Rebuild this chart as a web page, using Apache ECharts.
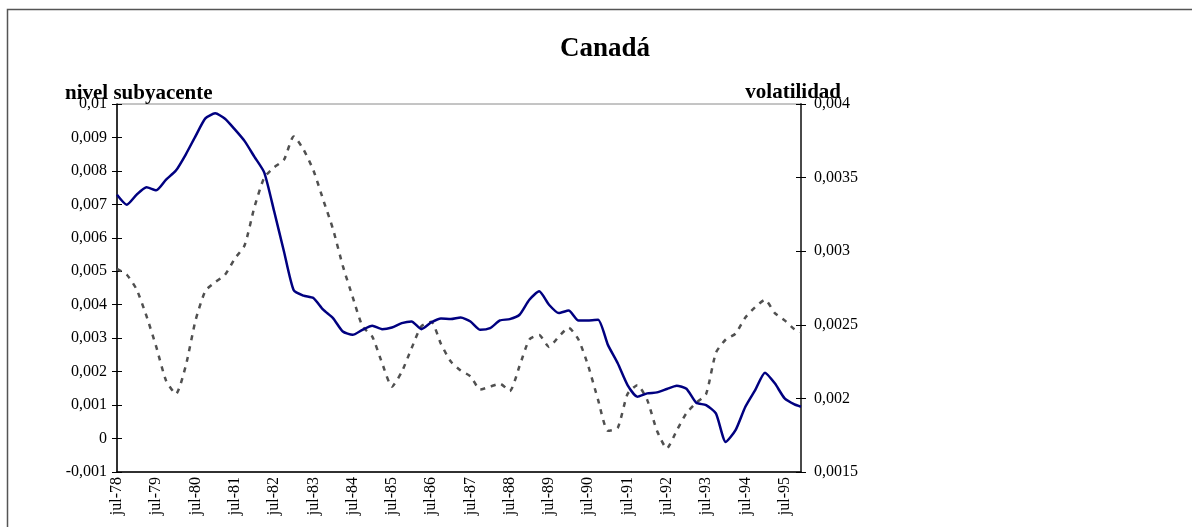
<!DOCTYPE html>
<html>
<head>
<meta charset="utf-8">
<script src="https://cdn.jsdelivr.net/npm/echarts@6/dist/echarts.min.js"></script>
<style>
  html, body { margin: 0; padding: 0; background: #fff; }
  #chart { width: 1192px; height: 527px; }
</style>
</head>
<body>
<div id="chart"></div>
<script>
// meses desde jul-78 (trimestral, ultimo punto dic-95)
const meses = [0, 3, 6, 9, 12, 15, 18, 21, 24, 27, 30, 33, 36, 39, 42, 45, 48, 51, 54, 57,
    60, 63, 66, 69, 72, 75, 78, 81, 84, 87, 90, 93, 96, 99, 102, 105, 108, 111, 114, 117,
    120, 123, 126, 129, 132, 135, 138, 141, 144, 147, 150, 153, 156, 159, 162, 165, 168, 171, 174, 177,
    180, 183, 186, 189, 192, 195, 198, 201, 204, 207, 209];

// nivel subyacente (eje izquierdo)
const nivel = [0.00729, 0.00699, 0.00729, 0.00751, 0.00742, 0.00774, 0.00801, 0.00849, 0.00904, 0.00957,
    0.00972, 0.00956, 0.00924, 0.00889, 0.00842, 0.00795, 0.0068, 0.0056, 0.00443, 0.00427,
    0.0042, 0.00385, 0.0036, 0.0032, 0.0031, 0.00325, 0.00337, 0.00327, 0.00332, 0.00345,
    0.0035, 0.00327, 0.00347, 0.00359, 0.00357, 0.00362, 0.0035, 0.00325, 0.0033, 0.00353,
    0.00357, 0.0037, 0.00415, 0.0044, 0.004, 0.00375, 0.00383, 0.00353, 0.00353, 0.00355,
    0.0028, 0.00225, 0.0016, 0.00125, 0.00135, 0.00138, 0.00148, 0.00158, 0.00149, 0.00107,
    0.001, 0.00075, -0.0001, 0.00025, 0.00095, 0.00145, 0.00197, 0.00165, 0.0012, 0.00102, 0.00095];

// volatilidad (eje derecho)
const volatilidad = [0.00288, 0.00284, 0.00274, 0.00256, 0.00235, 0.00212, 0.00203, 0.00222, 0.00253, 0.00273,
    0.00279, 0.00284, 0.00295, 0.00304, 0.0033, 0.0035, 0.00357, 0.00362, 0.00378, 0.00369,
    0.00355, 0.00335, 0.00315, 0.0029, 0.00269, 0.00249, 0.00242, 0.00224, 0.00208, 0.00218,
    0.00234, 0.00249, 0.00252, 0.00237, 0.00225, 0.00219, 0.00215, 0.00206, 0.00208, 0.0021,
    0.00205, 0.00222, 0.0024, 0.00243, 0.00235, 0.00242, 0.00248, 0.0024, 0.00222, 0.00199,
    0.00178, 0.0018, 0.00203, 0.00209, 0.00199, 0.00178, 0.00166, 0.00178, 0.0019, 0.00197,
    0.00203, 0.00231, 0.0024, 0.00244, 0.00255, 0.00262, 0.00267, 0.00258, 0.00253, 0.00247, 0.00245];

const FONT = 'Liberation Serif';

// 0.0035 -> "0,0035"
function coma (v) {
    return String(+(+v).toFixed(4)).replace('.', ',');
}

const chart = echarts.init(document.getElementById('chart'));

const tickStyle = { color: '#000', width: 1 };

chart.setOption({
    animation: false,
    grid: {
        left: 117, right: 391, top: 104, bottom: 55,
        show: true, borderColor: '#8a8a8a', borderWidth: 1
    },
    xAxis: {
        type: 'value',
        min: 0,
        max: 209,
        interval: 12,
        axisLine: { onZero: false, lineStyle: { color: '#000', width: 1.5 } },
        axisTick: { show: false },
        splitLine: { show: false },
        axisLabel: {
            rotate: 90,
            margin: 5,
            showMaxLabel: false,
            fontFamily: FONT, fontSize: 16, color: '#000',
            formatter: (v) => (v % 12 === 0 ? 'jul-' + (78 + v / 12) : '')
        }
    },
    yAxis: [
        {
            type: 'value', position: 'left',
            min: -0.001, max: 0.01, interval: 0.001,
            axisLine: { show: true, lineStyle: { color: '#000', width: 1.5 } },
            axisTick: { show: true, length: 5, lineStyle: tickStyle },
            splitLine: { show: false },
            axisLabel: { margin: 10, fontFamily: FONT, fontSize: 16, color: '#000', formatter: coma }
        },
        {
            type: 'value', position: 'right',
            min: 0.0015, max: 0.004, interval: 0.0005,
            axisLine: { show: true, lineStyle: { color: '#4a4a4a', width: 2 } },
            axisTick: { show: true, length: 5, lineStyle: tickStyle },
            splitLine: { show: false },
            axisLabel: { margin: 13, fontFamily: FONT, fontSize: 16, color: '#000', formatter: coma }
        },
        // marcas interiores (las marcas cruzan el eje)
        {
            type: 'value', position: 'left',
            min: -0.001, max: 0.01, interval: 0.001,
            axisLine: { show: false },
            axisTick: { show: true, inside: true, length: 5, lineStyle: tickStyle },
            axisLabel: { show: false },
            splitLine: { show: false }
        },
        {
            type: 'value', position: 'right',
            min: 0.0015, max: 0.004, interval: 0.0005,
            axisLine: { show: false },
            axisTick: { show: true, inside: true, length: 5, lineStyle: tickStyle },
            axisLabel: { show: false },
            splitLine: { show: false }
        }
    ],
    graphic: [
        {
            type: 'rect', silent: true,
            shape: { x: 7.5, y: 9.5, width: 1400, height: 800 },
            style: { fill: 'none', stroke: '#555', lineWidth: 1.5 }
        },
        {
            type: 'text',
            style: { x: 605, y: 63, text: 'Canadá', textAlign: 'center', textVerticalAlign: 'bottom',
                font: 'bold 27px "Liberation Serif"', fill: '#000' }
        },
        {
            type: 'text',
            style: { x: 65, y: 104, text: 'nivel subyacente', textAlign: 'left', textVerticalAlign: 'bottom',
                font: 'bold 21px "Liberation Serif"', fill: '#000' }
        },
        {
            type: 'text',
            style: { x: 841, y: 103, text: 'volatilidad', textAlign: 'right', textVerticalAlign: 'bottom',
                font: 'bold 21px "Liberation Serif"', fill: '#000' }
        }
    ],
    series: [
        {
            name: 'volatilidad',
            type: 'line',
            yAxisIndex: 1,
            data: meses.map((m, i) => [m, volatilidad[i]]),
            showSymbol: false,
            smooth: 0.2,
            lineStyle: { color: '#505050', width: 2.5, type: [5, 6] },
            z: 2
        },
        {
            name: 'nivel subyacente',
            type: 'line',
            yAxisIndex: 0,
            data: meses.map((m, i) => [m, nivel[i]]),
            showSymbol: false,
            smooth: 0.2,
            lineStyle: { color: '#000080', width: 2.5 },
            z: 3
        }
    ]
});
</script>
</body>
</html>
